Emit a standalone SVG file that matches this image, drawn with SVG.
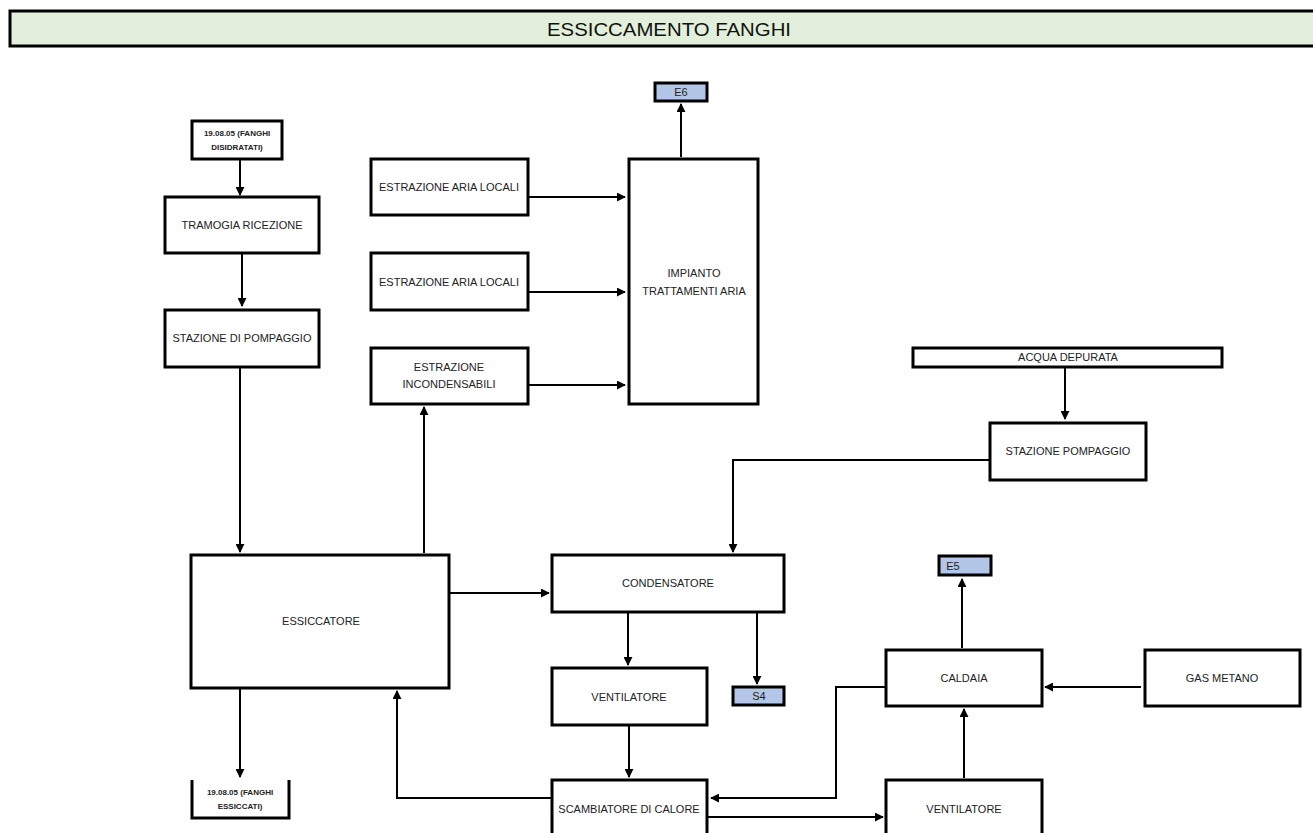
<svg xmlns="http://www.w3.org/2000/svg" width="1313" height="833" viewBox="0 0 1313 833">
<style>
.b{fill:#fff;stroke:#000;stroke-width:3}
.e{fill:#B4C6E7;stroke:#000;stroke-width:3}
.t{font-family:"Liberation Sans",Arial,sans-serif;font-size:11px;fill:#222;text-anchor:middle;dominant-baseline:central}
.s{font-family:"Liberation Sans",Arial,sans-serif;font-size:8px;font-weight:bold;fill:#222;text-anchor:middle;dominant-baseline:central}
.c{fill:none;stroke:#000;stroke-width:2}
</style>
<defs>
<marker id="a" viewBox="0 0 10 10" refX="9" refY="5" markerWidth="4.5" markerHeight="4.5" orient="auto" markerUnits="strokeWidth">
<path d="M0,0 L10,5 L0,10 z" fill="#000"/>
</marker>
</defs>
<rect width="1313" height="833" fill="#fff"/>
<g id="title">
<rect x="10" y="11" width="1310" height="35" fill="#E2EFDA" stroke="#000" stroke-width="3"/>
<text x="669" y="29" font-family="Liberation Sans,Arial,sans-serif" font-size="19" fill="#111" text-anchor="middle" dominant-baseline="central" textLength="244" lengthAdjust="spacingAndGlyphs">ESSICCAMENTO FANGHI</text>
</g>
<g id="connectors">
<path class="c" d="M240,159 V195" marker-end="url(#a)"/>
<path class="c" d="M242,253 V306" marker-end="url(#a)"/>
<path class="c" d="M240,367 V552" marker-end="url(#a)"/>
<path class="c" d="M424,553 V407" marker-end="url(#a)"/>
<path class="c" d="M528,197 H625" marker-end="url(#a)"/>
<path class="c" d="M528,292 H625" marker-end="url(#a)"/>
<path class="c" d="M528,385 H625" marker-end="url(#a)"/>
<path class="c" d="M681,157 V104" marker-end="url(#a)"/>
<path class="c" d="M1065,367 V419" marker-end="url(#a)"/>
<path class="c" d="M990,460 H733 V552" marker-end="url(#a)"/>
<path class="c" d="M449,593 H549" marker-end="url(#a)"/>
<path class="c" d="M628,612 V665" marker-end="url(#a)"/>
<path class="c" d="M757,612 V684" marker-end="url(#a)"/>
<path class="c" d="M629,725 V777" marker-end="url(#a)"/>
<path class="c" d="M240,688 V777" marker-end="url(#a)"/>
<path class="c" d="M552,798 H397 V691" marker-end="url(#a)"/>
<path class="c" d="M886,687 H836 V798 H711" marker-end="url(#a)"/>
<path class="c" d="M707,817 H883" marker-end="url(#a)"/>
<path class="c" d="M964,778 V709" marker-end="url(#a)"/>
<path class="c" d="M1141,687 H1045" marker-end="url(#a)"/>
<path class="c" d="M962,648 V579" marker-end="url(#a)"/>
</g>
<g id="n-disidratati">
<rect class="b" x="192" y="121" width="90" height="38"/>
<text class="s" x="237" y="133">19.08.05 (FANGHI</text>
<text class="s" x="237" y="147">DISIDRATATI)</text>
</g>
<g id="n-tramogia">
<rect class="b" x="165" y="197" width="154" height="56"/>
<text class="t" x="242" y="225">TRAMOGIA RICEZIONE</text>
</g>
<g id="n-stazione-pompaggio-1">
<rect class="b" x="165" y="310" width="154" height="57"/>
<text class="t" x="242" y="338">STAZIONE DI POMPAGGIO</text>
</g>
<g id="n-essiccatore">
<rect class="b" x="191" y="555" width="258" height="133"/>
<text class="t" x="321" y="621">ESSICCATORE</text>
</g>
<g id="n-essiccati">
<path d="M192,780 V818 H289 V780" fill="#fff" stroke="#000" stroke-width="3"/>
<text class="s" x="240" y="792">19.08.05 (FANGHI</text>
<text class="s" x="240" y="806">ESSICCATI)</text>
</g>
<g id="n-aria-1">
<rect class="b" x="371" y="159" width="157" height="56"/>
<text class="t" x="449" y="187">ESTRAZIONE ARIA LOCALI</text>
</g>
<g id="n-aria-2">
<rect class="b" x="371" y="253" width="157" height="57"/>
<text class="t" x="449" y="282">ESTRAZIONE ARIA LOCALI</text>
</g>
<g id="n-incondensabili">
<rect class="b" x="371" y="348" width="157" height="56"/>
<text class="t" x="449" y="367">ESTRAZIONE</text>
<text class="t" x="449" y="384">INCONDENSABILI</text>
</g>
<g id="n-impianto">
<rect class="b" x="629" y="159" width="129" height="245"/>
<text class="t" x="694" y="273">IMPIANTO</text>
<text class="t" x="694" y="291">TRATTAMENTI ARIA</text>
</g>
<g id="n-e6">
<rect class="e" x="655" y="83" width="52" height="18"/>
<text class="t" x="681" y="92">E6</text>
</g>
<g id="n-acqua">
<rect class="b" x="913" y="348" width="309" height="19"/>
<text class="t" x="1068" y="357">ACQUA DEPURATA</text>
</g>
<g id="n-stazione-pompaggio-2">
<rect class="b" x="990" y="423" width="156" height="57"/>
<text class="t" x="1068" y="451">STAZIONE POMPAGGIO</text>
</g>
<g id="n-condensatore">
<rect class="b" x="552" y="555" width="232" height="57"/>
<text class="t" x="668" y="583">CONDENSATORE</text>
</g>
<g id="n-ventilatore-1">
<rect class="b" x="552" y="668" width="155" height="57"/>
<text class="t" x="629" y="697">VENTILATORE</text>
</g>
<g id="n-s4">
<rect class="e" x="733" y="687" width="51" height="18"/>
<text class="t" x="759" y="696">S4</text>
</g>
<g id="n-e5">
<rect class="e" x="939" y="556" width="52" height="19"/>
<text class="t" x="953" y="566">E5</text>
</g>
<g id="n-caldaia">
<rect class="b" x="886" y="650" width="156" height="56"/>
<text class="t" x="964" y="678">CALDAIA</text>
</g>
<g id="n-gas">
<rect class="b" x="1145" y="650" width="155" height="56"/>
<text class="t" x="1222" y="678">GAS METANO</text>
</g>
<g id="n-scambiatore">
<rect class="b" x="552" y="780" width="155" height="60"/>
<text class="t" x="629" y="809">SCAMBIATORE DI CALORE</text>
</g>
<g id="n-ventilatore-2">
<rect class="b" x="886" y="780" width="156" height="60"/>
<text class="t" x="964" y="809">VENTILATORE</text>
</g>
</svg>
